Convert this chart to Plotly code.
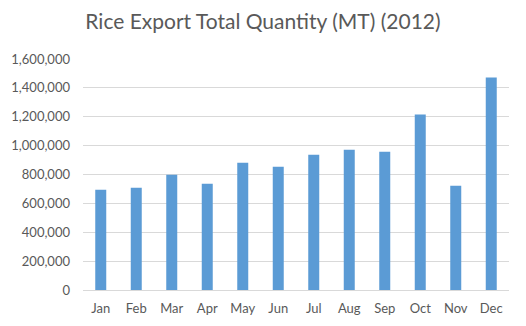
import plotly.graph_objects as go

months = ["Jan", "Feb", "Mar", "Apr", "May", "Jun",
          "Jul", "Aug", "Sep", "Oct", "Nov", "Dec"]
quantity_mt = [694000, 708000, 798000, 736000, 882000, 854000,
               937000, 972000, 958000, 1215000, 722000, 1472000]
y_ticks = list(range(0, 1600001, 200000))

fig = go.Figure(
    go.Bar(x=months, y=quantity_mt, marker=dict(color="#5B9BD5", line_width=0))
)

fig.update_layout(
    width=526,
    height=326,
    margin=dict(l=83, r=17, t=59, b=36),
    paper_bgcolor="white",
    plot_bgcolor="white",
    bargap=0.69,
    showlegend=False,
    font=dict(family="Lato, Open Sans, sans-serif", color="#595959", size=13),
    title=dict(
        text="Rice Export Total Quantity (MT) (2012)",
        x=0.5,
        xanchor="center",
        y=0.935,
        yanchor="middle",
        font=dict(size=21, color="#595959"),
    ),
    xaxis=dict(showgrid=False, showline=False, ticks="", automargin=False,
               tickfont=dict(size=13), ticklabelstandoff=9),
    yaxis=dict(
        range=[0, 1600000],
        tickvals=y_ticks,
        tickformat=",d",
        showgrid=True,
        gridcolor="#D9D9D9",
        gridwidth=1,
        zeroline=True,
        zerolinecolor="#D9D9D9",
        zerolinewidth=1,
        showline=False,
        ticks="",
        automargin=False,
        ticklabelstandoff=12,
        tickfont=dict(size=13),
    ),
)

fig.write_html("out.html")
